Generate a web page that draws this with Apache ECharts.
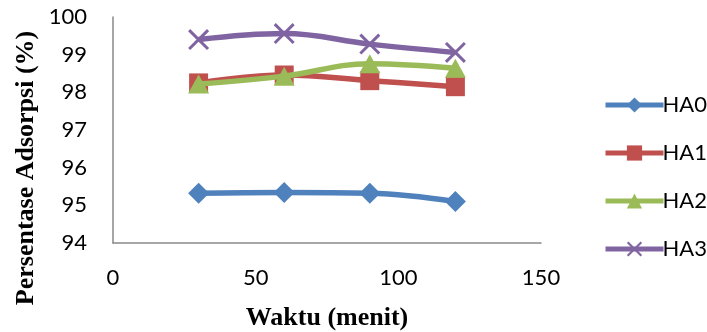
<!DOCTYPE html>
<html>
<head>
<meta charset="utf-8">
<script src="https://cdn.jsdelivr.net/npm/echarts@6/dist/echarts.min.js"></script>
<style>
  html, body { margin: 0; padding: 0; background: #fff; }
  #chart { width: 707px; height: 332px; }
</style>
</head>
<body>
<div id="chart"></div>
<script>
// Contact time (minutes) and adsorption percentage for each adsorbent
const waktu = [30, 60, 90, 120];
const seriesNames = ['HA0', 'HA1', 'HA2', 'HA3'];
const HA0 = [95.32, 95.34, 95.32, 95.10];
const HA1 = [98.25, 98.46, 98.31, 98.15];
const HA2 = [98.22, 98.43, 98.76, 98.64];
const HA3 = [99.40, 99.56, 99.28, 99.06];

const colors = ['#4F81BD', '#C0504D', '#9BBB59', '#8064A2'];
const symbols = [
  'diamond',
  'rect',
  'triangle',
  'path://M0,1L1,0L10,9L9,10ZM9,0L10,1L1,10L0,9Z'
];
const symbolSizes = [21, 19, [21, 19], 21];
const values = [HA0, HA1, HA2, HA3];

const tickFont = 'Lato, "Open Sans", sans-serif';
const titleFont = '"Liberation Serif", "Times New Roman", serif';

const chart = echarts.init(document.getElementById('chart'));
chart.setOption({
  animation: false,
  grid: { left: 113, right: 166, top: 17, bottom: 89, containLabel: false, outerBoundsMode: 'none' },
  xAxis: {
    type: 'value',
    min: 0, max: 150, interval: 50,
    name: 'Waktu (menit)',
    nameLocation: 'middle',
    nameGap: 62,
    nameTextStyle: { fontFamily: titleFont, fontWeight: 'bold', fontSize: 26, color: '#000' },
    axisLine: { show: true, lineStyle: { color: '#898989', width: 1.5 } },
    axisTick: { show: false },
    splitLine: { show: false },
    axisLabel: { fontFamily: tickFont, fontSize: 22, color: '#000', margin: 24 }
  },
  yAxis: {
    type: 'value',
    min: 94, max: 100, interval: 1,
    axisLine: { show: true, lineStyle: { color: '#898989', width: 1.5 } },
    axisTick: { show: false },
    splitLine: { show: false },
    axisLabel: { fontFamily: tickFont, fontSize: 22, color: '#000', margin: 26 }
  },
  graphic: [{
    type: 'text',
    x: 26, y: 168,
    rotation: Math.PI / 2,
    style: {
      text: 'Persentase Adsorpsi (%)',
      font: 'bold 26px ' + titleFont,
      fill: '#000',
      align: 'center',
      verticalAlign: 'middle'
    }
  }],
  legend: {
    orient: 'vertical',
    left: 598,
    top: 89,
    itemWidth: 58,
    itemHeight: 19,
    itemGap: 26,
    lineStyle: { width: 5 },
    textStyle: { fontFamily: tickFont, fontSize: 22, color: '#000', padding: [0, 0, 0, -6] },
    data: seriesNames
  },
  series: seriesNames.map((name, i) => ({
    name: name,
    type: 'line',
    smooth: 0.4,
    data: waktu.map((t, j) => [t, values[i][j]]),
    symbol: symbols[i],
    symbolSize: symbolSizes[i],
    showSymbol: true,
    lineStyle: { color: colors[i], width: 5.5 },
    itemStyle: { color: colors[i] },
    z: 2 + i
  }))
});
</script>
</body>
</html>
